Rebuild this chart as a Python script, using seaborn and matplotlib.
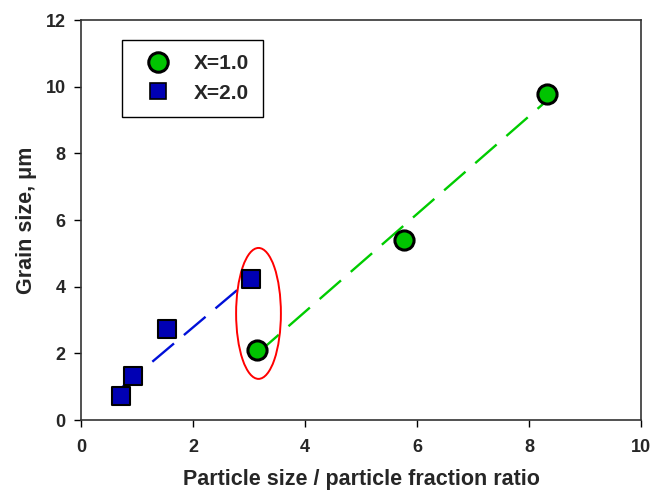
import matplotlib
matplotlib.use("Agg")
import matplotlib.pyplot as plt
import seaborn as sns
import pandas as pd
from matplotlib.patches import Ellipse
from matplotlib.lines import Line2D

# Data
x1_ratio = [3.15, 5.77, 8.33]
x1_grain = [2.1, 5.4, 9.8]
x2_ratio = [0.71, 0.93, 1.54, 3.03]
x2_grain = [0.72, 1.33, 2.72, 4.22]
# Trend (dashed) line endpoints
fit1_x = [3.15, 8.33]
fit1_y = [2.0, 9.6]
fit2_x = [0.71, 3.0]
fit2_y = [0.95, 4.2]
series_labels = ["X=1.0", "X=2.0"]
xticks = [0, 2, 4, 6, 8, 10]
yticks = [0, 2, 4, 6, 8, 10, 12]

sns.set_style("ticks")
plt.rcParams['font.family'] = ['Liberation Sans', 'DejaVu Sans']

green = "#00C400"
green_line = "#00CC00"
blue = "#0000B4"
blue_line = "#0010D8"

fig = plt.figure(figsize=(6.56, 4.93), dpi=100)
ax = fig.add_axes([0.1235, 0.148, 0.8535, 0.811])

df1 = pd.DataFrame({"x": x1_ratio, "y": x1_grain})
df2 = pd.DataFrame({"x": x2_ratio, "y": x2_grain})
f1 = pd.DataFrame({"x": fit1_x, "y": fit1_y})
f2 = pd.DataFrame({"x": fit2_x, "y": fit2_y})

sns.lineplot(data=f1, x="x", y="y", ax=ax, color=green_line, lw=1.7,
             zorder=2).lines[-1].set_dashes((12, 5.5))
sns.lineplot(data=f2, x="x", y="y", ax=ax, color=blue_line, lw=1.7,
             zorder=2).lines[-1].set_dashes((12, 5.5))

sns.scatterplot(data=df1, x="x", y="y", ax=ax, marker="o", s=190,
                color=green, edgecolor="black", linewidth=2.2, zorder=4)
sns.scatterplot(data=df2, x="x", y="y", ax=ax, marker="s", s=170,
                color=blue, edgecolor="black", linewidth=1.5, zorder=4)

ell = Ellipse((3.17, 3.2), width=0.8, height=3.93, fill=False,
              edgecolor="#FF0000", lw=1.4, zorder=3)
ax.add_patch(ell)

ax.set_xlim(0, 10)
ax.set_ylim(0, 12)
ax.set_xticks(xticks)
ax.set_yticks(yticks)
ax.set_xticklabels([str(t) for t in xticks], fontsize=13, fontweight="bold")
ax.set_yticklabels([str(t) for t in yticks], fontsize=13, fontweight="bold")
ax.tick_params(direction="out", length=5, width=1, color="black")
ax.tick_params(axis="x", pad=9)
ax.tick_params(axis="y", pad=6)
for s in ax.spines.values():
    s.set_visible(True)
    s.set_color("#333333")
    s.set_linewidth(1.2)

ax.set_xlabel("Particle size / particle fraction ratio", fontsize=15.5,
              fontweight="bold", labelpad=9)
ax.set_ylabel("Grain size, μm", fontsize=15.5, fontweight="bold", labelpad=6)

handles = [
    Line2D([], [], marker="o", ls="none", markersize=14, markerfacecolor=green,
           markeredgecolor="black", markeredgewidth=2.2),
    Line2D([], [], marker="s", ls="none", markersize=12, markerfacecolor=blue,
           markeredgecolor="black", markeredgewidth=1.2),
]
leg = ax.legend(handles, series_labels, loc="upper left",
                bbox_to_anchor=(0.073, 0.95), borderaxespad=0,
                frameon=True, fancybox=False,
                edgecolor="black", framealpha=1, borderpad=0.68,
                handlelength=2.1, handletextpad=0.65, labelspacing=0.5,
                prop={"size": 15, "weight": "bold"})
leg.get_frame().set_linewidth(1.0)

fig.savefig("out.png", dpi=100)
